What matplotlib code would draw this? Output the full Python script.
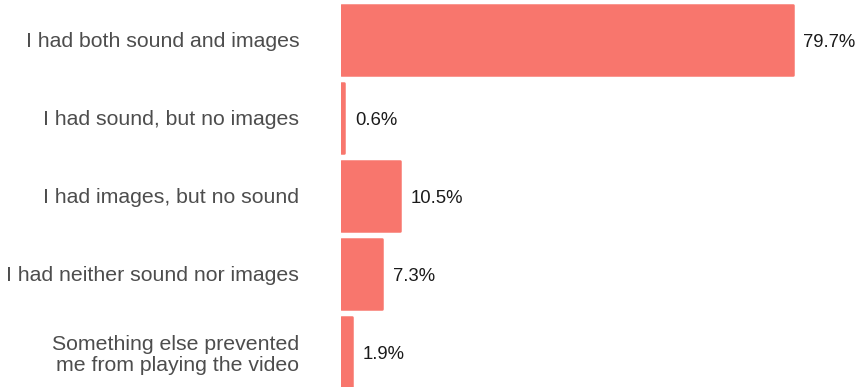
import matplotlib
matplotlib.use("Agg")
import matplotlib.pyplot as plt

categories = [
    "I had both sound and images",
    "I had sound, but no images",
    "I had images, but no sound",
    "I had neither sound nor images",
    "Something else prevented\nme from playing the video",
]
values = [79.7, 0.6, 10.5, 7.3, 1.9]
value_labels = ["79.7%", "0.6%", "10.5%", "7.3%", "1.9%"]

bar_color = "#F8766D"

plt.rcParams["font.family"] = ["Liberation Sans", "DejaVu Sans"]

W, H = 858, 387
fig = plt.figure(figsize=(W / 100, H / 100), dpi=100)
ax = fig.add_axes([341 / W, 0, 1 - 341 / W, 1])

positions = list(range(len(categories)))
ax.barh(positions, values, height=0.89, color=bar_color, edgecolor=bar_color,
        linewidth=1.8, joinstyle="round")

for p, v, lab in zip(positions, values, value_labels):
    ax.annotate(lab, xy=(v, p), xytext=(7.5, -1.5), textcoords="offset points",
                ha="left", va="center", fontsize=13.3, color="#1a1a1a")

ax.set_xlim(0, (W - 341) / 5.665)
ax.set_ylim((H - 40) / 78, -40 / 78)
ax.set_yticks(positions)
ax.set_yticklabels(categories, fontsize=15.3, color="#4D4D4D",
                   multialignment="right", linespacing=1.12)
ax.tick_params(axis="y", length=0, pad=30)
ax.set_xticks([])
for s in ax.spines.values():
    s.set_visible(False)

fig.savefig("out.png", dpi=100)
